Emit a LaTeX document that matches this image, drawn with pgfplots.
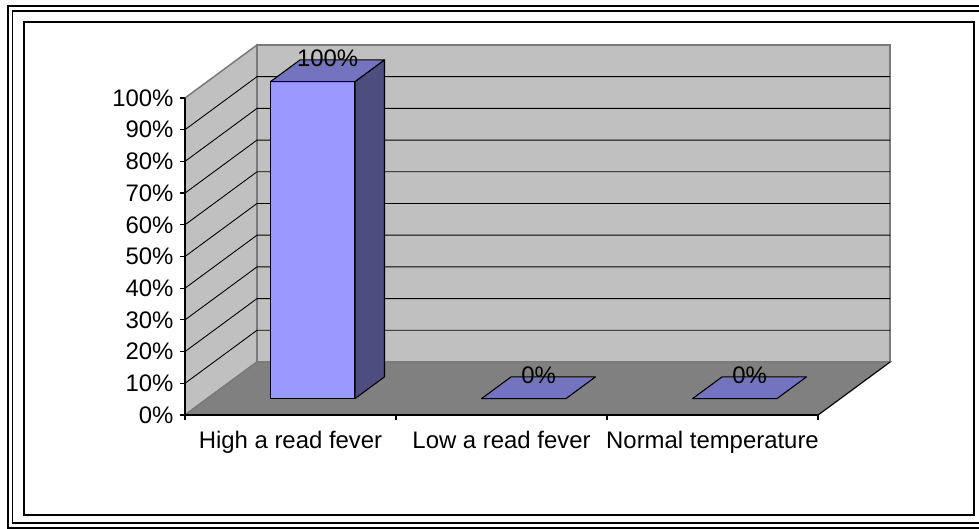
\documentclass[border=0pt]{standalone}
\usepackage{fontspec}
\setmainfont{Liberation Sans}
\usepackage{pgfplots}
\usepackage{pgfplotstable}
\pgfplotsset{compat=1.18}

\definecolor{wallgray}{HTML}{C0C0C0}
\definecolor{floorgray}{HTML}{808080}
\definecolor{edgegray}{HTML}{7A7A7A}
\definecolor{barfront}{HTML}{9999FF}
\definecolor{barside}{HTML}{4D4D80}
\definecolor{bartop}{HTML}{7373BF}

% share of patients per temperature group (percent)
\pgfplotstableread{
x value
0 100
1 0
2 0
}\feverdata

% depth of the 3-D box, in axis units (x: categories, y: percent)
\def\dx{0.3412}
\def\dy{16.72}

% horizontal grid line on the back wall plus the slanted one on the side wall
\newcommand\gridline[1]{%
  \pgfmathsetmacro\gb{#1+\dy}%
  \edef\tmp{\noexpand\addplot[black, line width=0.9bp] coordinates {(-0.5,#1) (-0.1588,\gb) (2.8412,\gb)};}%
  \tmp}

% one 3-D column: front, side and top faces, built from the table value
\newcommand\drawbar[1]{%
  \pgfplotstablegetelem{#1}{value}\of\feverdata
  \pgfmathsetmacro\bv{\pgfplotsretval}%
  \pgfmathsetmacro\xa{#1-0.2+0.10577}%
  \pgfmathsetmacro\xb{#1+0.2+0.10577}%
  \pgfmathsetmacro\xc{#1-0.2+0.24566}%
  \pgfmathsetmacro\xd{#1+0.2+0.24566}%
  \def\ya{5.183}\def\yb{12.038}%
  \pgfmathsetmacro\yat{\bv+5.183}%
  \pgfmathsetmacro\ybt{\bv+12.038}%
  \ifdim\bv pt>0pt
    \edef\tmp{%
      \noexpand\addplot[fill=barfront, draw=black, line width=1.1bp, line join=round] coordinates {(\xa,\ya) (\xb,\ya) (\xb,\yat) (\xa,\yat)} -- cycle;
      \noexpand\addplot[fill=barside, draw=black, line width=1.1bp, line join=round] coordinates {(\xb,\ya) (\xd,\yb) (\xd,\ybt) (\xb,\yat)} -- cycle;
    }\tmp
  \fi
  \edef\tmp{%
    \noexpand\addplot[fill=bartop, draw=black, line width=1.1bp, line join=round] coordinates {(\xa,\yat) (\xb,\yat) (\xd,\ybt) (\xc,\ybt)} -- cycle;
  }\tmp}

\begin{document}
\begin{tikzpicture}[x=1bp,y=1bp]
\path[use as bounding box] (0,0) rectangle (979,529);
% double outer frame and inner frame
\draw[black, line width=1.5bp] (8,1) rectangle (995,523);
\draw[black, line width=1.5bp] (12.5,6) rectangle (995,518);
\draw[black, line width=2bp] (24,14) rectangle (974,507);

\begin{axis}[
  at={(185bp,114bp)}, anchor=south west,
  scale only axis, width=633bp, height=317bp,
  xmin=-0.5, xmax=2.5, ymin=0, ymax=100,
  clip=false, axis on top,
  axis x line*=bottom, axis y line*=left,
  axis line style={black, line width=1.2bp},
  tick style={black, line width=1.2bp},
  major tick length=5bp, tick align=outside,
  xtick={-0.5,0.5,1.5,2.5},
  xticklabels={High a read fever, Low a read fever, Normal temperature, {}},
  xticklabel style={xshift=105.5bp, yshift=-8bp},
  ytick={0,10,...,100},
  yticklabels={0\%,10\%,20\%,30\%,40\%,50\%,60\%,70\%,80\%,90\%,100\%},
  yticklabel style={xshift=-3bp},
  tick label style={font=\fontsize{24}{28}\selectfont},
]
% back wall, side wall and floor
\addplot[fill=wallgray, draw=edgegray, line width=1.5bp]
  coordinates {(-0.1588,16.72) (2.8412,16.72) (2.8412,116.72) (-0.1588,116.72)} -- cycle;
\addplot[fill=wallgray, draw=edgegray, line width=1.5bp]
  coordinates {(-0.5,0) (-0.5,100) (-0.1588,116.72) (-0.1588,16.72)} -- cycle;
\addplot[fill=floorgray, draw=edgegray, line width=1.5bp]
  coordinates {(-0.5,0) (2.5,0) (2.8412,16.72) (-0.1588,16.72)} -- cycle;
\addplot[black, line width=1bp] coordinates {(2.5,0) (2.8412,16.72)};

\pgfplotsinvokeforeach{10,20,...,90}{\gridline{#1}}

\pgfplotsinvokeforeach{0,1,2}{\drawbar{#1}}

% value labels above the columns
\addplot[draw=none, mark=none, point meta=explicit,
  nodes near coords={\pgfmathprintnumber[assume math mode=true]{\pgfplotspointmeta}\%},
  every node near coord/.append style={anchor=center, yshift=12.5bp,
    font=\fontsize{24}{28}\selectfont}]
  table[x expr=\thisrow{x}+0.1757, y expr=\thisrow{value}+8.611, meta=value] {\feverdata};
\end{axis}
\end{tikzpicture}
\end{document}
